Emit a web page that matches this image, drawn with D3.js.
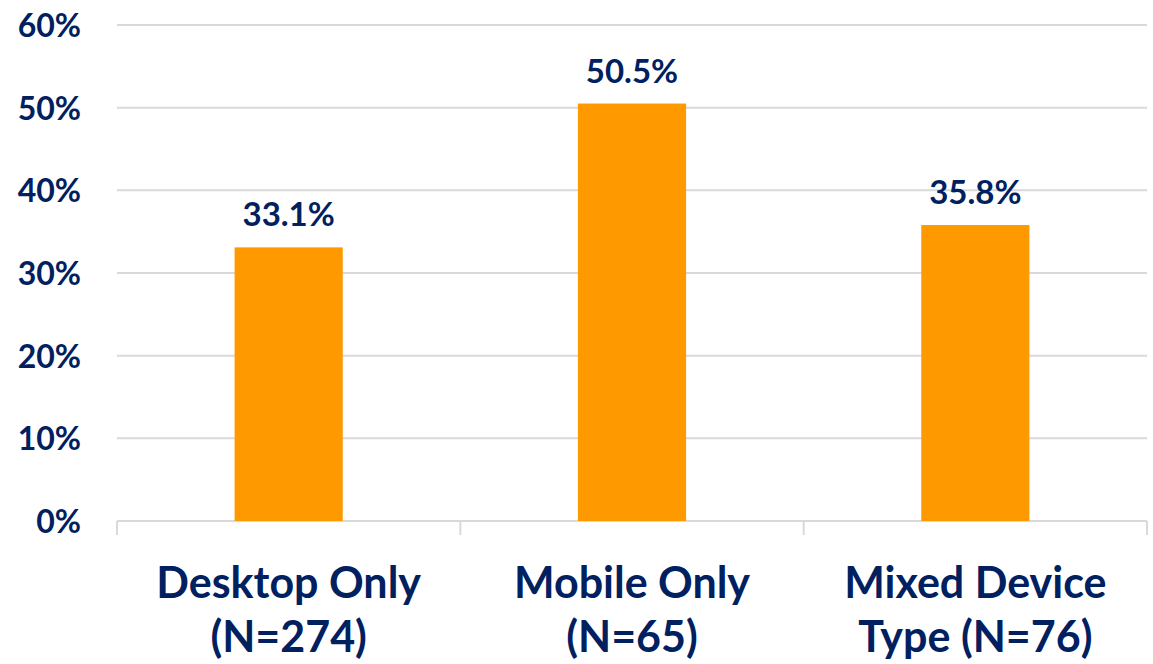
<!DOCTYPE html>
<html>
<head>
<meta charset="utf-8">
<script src="https://cdn.jsdelivr.net/npm/d3@7"></script>
<style>
  body { margin: 0; background: #fff; }
  svg { display: block; }
  text { font-family: Lato, "Open Sans", sans-serif; font-weight: bold; fill: #002060; }
</style>
</head>
<body>
<svg id="chart" width="1153" height="664"></svg>
<script>
// chart data
var categories = [["Desktop Only", "(N=274)"], ["Mobile Only", "(N=65)"], ["Mixed Device", "Type (N=76)"]];
var values = [33.1, 50.5, 35.8];
var yTicks = [0, 10, 20, 30, 40, 50, 60];

var svg = d3.select("#chart");
var plotLeft = 117, plotRight = 1147, plotTop = 25, plotBottom = 521;

var x = d3.scaleBand()
	.domain(d3.range(categories.length))
	.range([plotLeft, plotRight])
	.paddingInner(0.685)
	.paddingOuter(0.3425);
var xb = d3.scaleBand()
	.domain(d3.range(categories.length))
	.range([plotLeft, plotRight]);
var y = d3.scaleLinear()
	.domain([0, 60])
	.range([plotBottom, plotTop]);

// gridlines
svg.append("g")
	.selectAll("line")
	.data(yTicks)
	.enter()
		.append("line")
		.attr("x1", plotLeft)
		.attr("x2", plotRight)
		.attr("y1", function(d){ return y(d); })
		.attr("y2", function(d){ return y(d); })
		.attr("stroke", "#d9d9d9")
		.attr("stroke-width", 2);

// category tick marks
var edges = d3.range(categories.length + 1).map(function(i){
	return i < categories.length ? xb(i) : plotRight;
});
svg.append("g")
	.selectAll("line")
	.data(edges)
	.enter()
		.append("line")
		.attr("x1", function(d){ return d; })
		.attr("x2", function(d){ return d; })
		.attr("y1", plotBottom)
		.attr("y2", plotBottom + 14)
		.attr("stroke", "#d9d9d9")
		.attr("stroke-width", 2);

// y labels
svg.append("g")
	.selectAll("text")
	.data(yTicks)
	.enter()
		.append("text")
		.attr("x", 81)
		.attr("y", function(d){ return y(d) + 12; })
		.attr("text-anchor", "end")
		.attr("font-size", 32)
		.text(function(d){ return d + "%"; });

// bars
svg.append("g")
	.selectAll("rect")
	.data(values)
	.enter()
		.append("rect")
		.attr("x", function(d, i){ return x(i); })
		.attr("width", x.bandwidth())
		.attr("y", function(d){ return y(d); })
		.attr("height", function(d){ return y(0) - y(d); })
		.attr("fill", "#ff9900");

// value labels
svg.append("g")
	.selectAll("text")
	.data(values)
	.enter()
		.append("text")
		.attr("x", function(d, i){ return x(i) + x.bandwidth() / 2; })
		.attr("y", function(d){ return y(d) - 21; })
		.attr("text-anchor", "middle")
		.attr("font-size", 33)
		.text(function(d){ return d.toFixed(1) + "%"; });

// category labels
var cat = svg.append("g")
	.selectAll("text")
	.data(categories)
	.enter()
		.append("text")
		.attr("text-anchor", "middle")
		.attr("font-size", 43);
cat.each(function(lines, i){
	var t = d3.select(this);
	lines.forEach(function(line, j){
		t.append("tspan")
			.attr("x", xb(i) + xb.bandwidth() / 2)
			.attr("y", 598 + j * 54)
			.text(line);
	});
});
</script>
</body>
</html>
